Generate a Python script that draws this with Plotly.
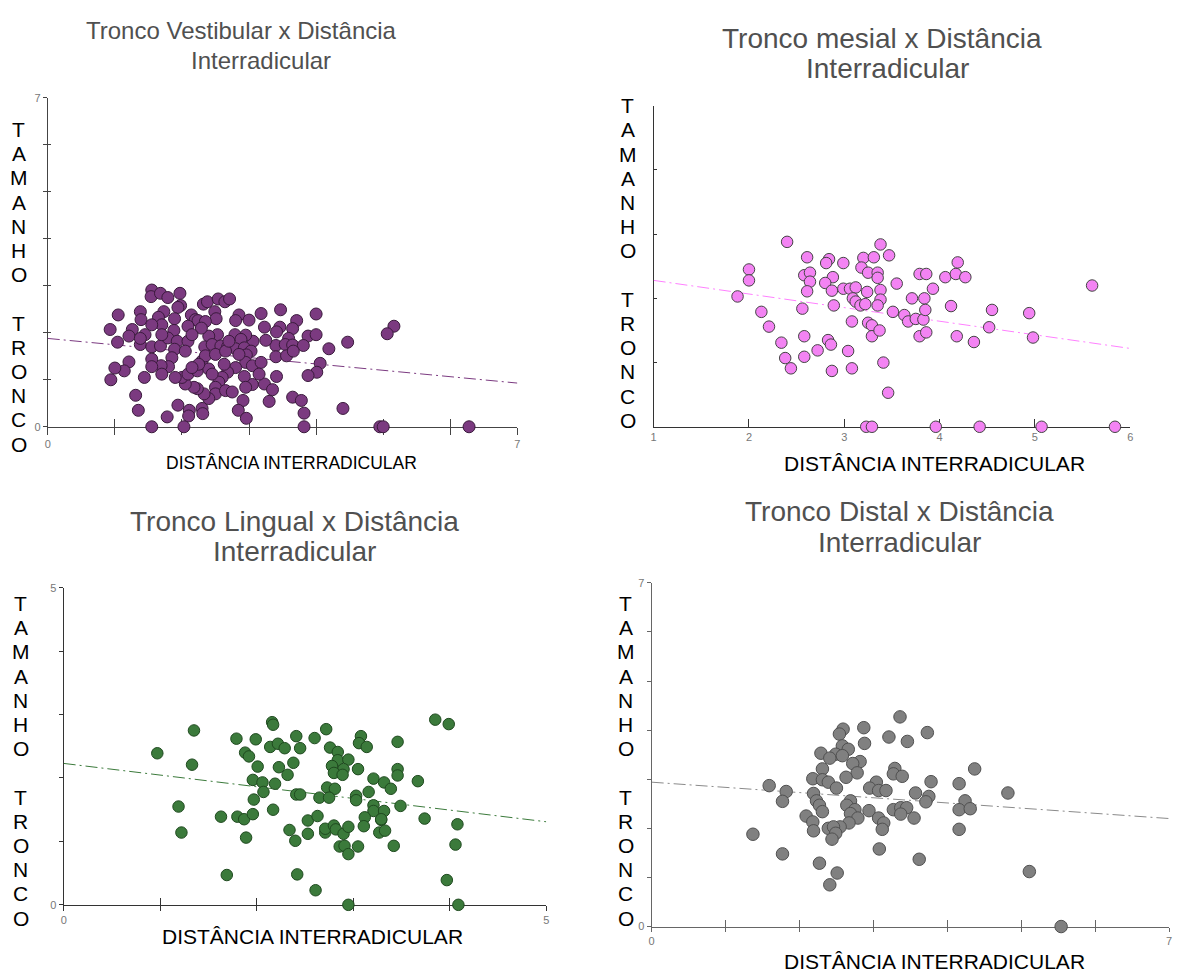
import plotly.graph_objects as go

# ---------------- data: (distância interradicular, tamanho do tronco) ----------------
vestibular_pts = [
    (1.55,2.91),(1.54,2.77),(1.68,2.84),(1.79,2.75),(1.97,2.84),(1.98,2.58),(1.94,2.54),(2.32,2.61),
    (2.38,2.66),(2.54,2.72),(2.64,2.66),(2.71,2.72),(2.49,2.45),(2.51,2.30),(1.38,2.45),(1.39,2.28),
    (1.05,2.38),(1.73,2.45),(1.65,2.33),(1.89,2.30),(2.14,2.38),(2.20,2.28),(2.24,2.26),(2.35,2.24),
    (2.85,2.38),(2.80,2.26),(3.00,2.27),(3.18,2.41),(3.47,2.49),(3.71,2.26),(4.00,2.40),(5.16,2.14),
    (5.06,1.98),(4.47,1.80),(4.19,1.66),(3.88,1.93),(4.00,1.96),(3.23,2.12),(3.46,2.12),(3.41,2.02),
    (3.65,2.09),(3.59,1.88),(3.40,1.73),(3.54,1.75),(3.65,1.74),(3.81,1.73),(3.25,1.84),(3.06,1.82),
    (2.95,1.95),(2.79,1.96),(2.88,1.86),(2.53,1.96),(2.40,1.93),(2.29,2.10),(2.09,2.14),(1.88,2.05),
    (1.70,2.17),(1.55,2.17),(1.45,1.96),(1.26,2.07),(1.21,1.93),(0.93,2.07),(1.04,1.80),(1.38,1.75),
    (1.38,1.88),(1.55,1.70),(1.68,1.72),(1.79,1.89),(1.93,1.82),(2.09,1.82),(2.34,1.70),(2.45,1.75),
    (2.58,1.72),(2.68,1.70),(2.80,1.66),(2.93,1.68),(3.03,1.61),(2.96,1.53),(2.95,1.37),(3.05,1.30),
    (3.18,1.37),(3.40,1.49),(3.56,1.51),(3.66,1.61),(4.06,1.35),(4.01,1.16),(3.88,1.09),(3.41,1.07),
    (3.23,0.91),(3.35,0.79),(3.05,0.90),(2.93,1.07),(2.95,0.84),(2.80,1.26),(2.68,1.16),(2.60,1.05),
    (2.55,0.95),(2.50,0.84),(2.50,0.70),(2.65,0.77),(2.75,0.74),(2.40,0.60),(2.33,0.70),(2.23,0.81),
    (2.18,0.84),(2.05,0.91),(2.00,1.05),(1.90,1.05),(2.09,1.12),(2.23,1.19),(2.30,1.40),(2.35,1.51),
    (2.40,1.23),(2.50,1.54),(2.65,1.61),(1.89,1.65),(1.85,1.47),(1.80,1.28),(1.69,1.30),(1.70,1.12),
    (1.55,1.44),(1.55,1.28),(1.44,1.05),(1.21,1.38),(1.14,1.19),(1.00,1.25),(0.94,1.00),(1.31,0.67),
    (1.35,0.35),(1.78,0.21),(1.94,0.46),(2.11,0.35),(2.10,0.23),(2.03,0.00),(1.55,0.00),(2.30,0.39),
    (2.31,0.28),(2.91,0.56),(2.84,0.35),(2.96,0.18),(3.30,0.54),(3.65,0.63),(3.78,0.56),(3.82,0.29),
    (3.82,0.00),(4.40,0.39),(4.95,0.00),(5.00,0.00),(6.28,0.00),(2.25,1.33),(2.63,1.33),(2.15,1.26),
    (2.85,1.54),(3.15,1.12),(2.45,1.12),(2.70,1.82),(2.15,1.96),(1.70,1.96),(2.05,1.61),
]

mesial_pts = [
    (2.40,2.88),(3.38,2.84),(2.61,2.64),(2.84,2.61),(2.81,2.55),(2.99,2.55),(3.20,2.63),(3.31,2.64),
    (3.47,2.67),(3.18,2.48),(3.25,2.40),(3.35,2.40),(3.35,2.32),(2.00,2.45),(2.00,2.28),(1.88,2.03),
    (2.58,2.36),(2.64,2.40),(2.64,2.26),(2.61,2.11),(2.88,2.33),(2.80,2.24),(2.87,2.12),(2.99,2.15),
    (3.06,2.15),(3.12,2.17),(3.24,2.10),(3.38,2.13),(3.55,2.23),(3.09,2.00),(3.12,1.95),(3.17,1.89),
    (3.22,1.91),(3.38,1.98),(3.35,1.89),(2.89,1.89),(2.56,1.84),(2.13,1.79),(2.21,1.56),(2.34,1.31),
    (2.58,1.41),(2.38,1.07),(2.44,0.91),(2.58,1.09),(2.72,1.19),(2.83,1.35),(2.86,1.28),(2.87,0.87),
    (3.04,1.18),(3.08,0.91),(3.08,1.64),(3.25,1.62),(3.29,1.58),(3.29,1.41),(3.37,1.50),(3.41,1.00),
    (3.46,0.53),(3.51,1.79),(3.63,1.74),(3.67,1.64),(3.71,2.00),(3.75,1.68),(3.83,1.67),(3.84,2.00),
    (3.85,1.82),(3.79,2.38),(3.86,2.38),(3.93,2.15),(3.79,1.41),(3.86,1.47),(4.06,2.33),(4.17,2.38),
    (4.19,2.56),(4.27,2.33),(4.12,1.88),(4.18,1.41),(4.36,1.32),(4.52,1.55),(4.55,1.82),(4.94,1.77),
    (4.98,1.39),(5.60,2.20),(3.23,0.00),(3.29,0.00),(3.96,0.00),(4.42,0.00),(5.07,0.00),(5.84,0.00),
]

lingual_pts = [
    (2.16,2.88),(2.17,2.84),(3.85,2.92),(3.99,2.85),(1.35,2.75),(2.72,2.77),(1.79,2.62),(1.99,2.61),
    (2.41,2.66),(2.60,2.63),(3.08,2.66),(3.46,2.57),(2.14,2.49),(2.22,2.54),(2.29,2.47),(2.45,2.47),
    (2.76,2.48),(2.84,2.41),(3.06,2.55),(3.14,2.49),(0.97,2.39),(1.88,2.40),(1.92,2.34),(2.84,2.28),
    (2.95,2.29),(1.33,2.21),(2.01,2.18),(2.23,2.17),(2.38,2.24),(2.78,2.19),(2.90,2.14),(3.05,2.14),
    (2.80,2.08),(2.89,2.05),(3.46,2.14),(3.46,2.04),(2.32,2.05),(1.96,1.97),(2.06,1.93),(2.19,1.91),
    (3.21,1.99),(3.32,1.93),(3.39,1.83),(3.67,1.95),(2.73,1.85),(2.81,1.83),(2.07,1.78),(2.41,1.74),
    (2.45,1.74),(2.65,1.69),(2.75,1.69),(3.16,1.78),(3.03,1.72),(3.03,1.65),(1.97,1.66),(1.19,1.55),
    (2.17,1.50),(3.21,1.57),(3.21,1.48),(3.32,1.48),(3.49,1.56),(1.63,1.39),(1.80,1.39),(1.87,1.35),
    (1.96,1.43),(2.53,1.33),(2.63,1.40),(3.12,1.38),(3.29,1.34),(3.74,1.36),(4.08,1.27),(1.22,1.14),
    (1.89,1.06),(2.34,1.18),(2.40,1.01),(2.53,1.12),(2.71,1.14),(2.71,1.20),(2.80,1.25),(2.82,1.19),
    (2.90,1.12),(2.95,1.23),(3.11,1.24),(3.27,1.14),(3.33,1.17),(3.29,1.35),(2.86,0.92),(2.91,0.93),
    (3.05,0.92),(2.95,0.80),(3.42,0.93),(4.06,0.95),(1.69,0.47),(2.42,0.48),(2.61,0.23),(3.97,0.39),
    (2.95,0.00),(4.09,0.00),
]

distal_pts = [
    (3.36,4.27),(2.87,4.05),(2.59,4.02),(3.73,3.95),(2.54,3.92),(3.21,3.86),(3.46,3.77),(2.88,3.73),
    (2.58,3.68),(2.66,3.61),(2.29,3.53),(2.49,3.51),(2.41,3.43),(2.58,3.48),(2.82,3.36),(2.72,3.32),
    (2.78,3.13),(2.31,3.21),(4.37,3.21),(3.29,3.22),(3.27,3.11),(3.39,3.06),(2.63,3.04),(2.18,3.01),
    (2.31,2.99),(2.39,2.94),(3.04,2.94),(3.78,2.95),(4.16,2.91),(1.59,2.87),(2.50,2.82),(2.95,2.82),
    (3.07,2.77),(3.17,2.77),(1.82,2.75),(3.57,2.72),(2.19,2.71),(3.75,2.65),(4.82,2.72),(2.23,2.56),
    (1.77,2.55),(2.69,2.56),(4.24,2.56),(3.71,2.54),(2.27,2.47),(2.64,2.47),(2.75,2.38),(2.94,2.36),
    (2.31,2.34),(3.27,2.38),(3.37,2.42),(3.45,2.42),(3.37,2.29),(4.16,2.38),(4.31,2.40),(2.69,2.30),
    (2.09,2.25),(2.79,2.21),(3.07,2.21),(3.55,2.21),(2.18,2.13),(2.67,2.11),(3.14,2.11),(3.12,1.98),
    (2.39,2.00),(2.55,2.03),(2.19,1.95),(2.46,2.03),(2.49,1.90),(4.16,1.98),(1.37,1.88),(2.44,1.78),
    (3.08,1.58),(1.77,1.48),(3.62,1.37),(2.27,1.29),(2.51,1.09),(5.11,1.12),(2.41,0.85),(5.54,0.00),
]

# regression lines (end points)
vestibular_fit_x, vestibular_fit_y = [0, 7], [1.88, 0.93]
mesial_fit_x, mesial_fit_y = [1, 6], [2.28, 1.22]
lingual_fit_x, lingual_fit_y = [0, 5], [2.23, 1.31]
distal_fit_x, distal_fit_y = [0, 7], [2.94, 2.20]

# axis ranges and tick labels
vestibular_ticks = list(range(0, 8))
mesial_xticks = list(range(1, 7))
mesial_yticks = list(range(0, 6))
lingual_ticks = list(range(0, 6))
distal_ticks = list(range(0, 8))

titles = [
    ("Tronco Vestibular x Distância", "Interradicular"),
    ("Tronco mesial x Distância", "Interradicular"),
    ("Tronco Lingual x Distância", "Interradicular"),
    ("Tronco Distal x Distância", "Interradicular"),
]
x_title = "DISTÂNCIA INTERRADICULAR"
y_letters = ["T", "A", "M", "A", "N", "H", "O", "", "T", "R", "O", "N", "C", "O"]

# ---------------- layout helpers ----------------
W, H = 1178, 977
FONT = "Arial, Liberation Sans, Helvetica, sans-serif"


def px(x):
    return x / W


def py(y):
    return 1 - y / H


def ends_only(vals):
    return [str(v) if i in (0, len(vals) - 1) else "" for i, v in enumerate(vals)]


panels = [
    dict(pts=vestibular_pts, fx=vestibular_fit_x, fy=vestibular_fit_y,
         fill="#7b3a80", edge="#3a1a3c", size=12, fit_color="#7b3a80",
         xdom=(45, 517), ydom=(93, 426), xr=[0, 7], yr=[0, 7],
         xt=vestibular_ticks, xtt=ends_only(vestibular_ticks),
         yt=vestibular_ticks, ytt=ends_only(vestibular_ticks), ylabels=True,
         axis_color="#444444",
         x_main=("outside", 7), x_over=("inside", 8, None),
         y_main=("outside", 4), y_over=("inside", 3, None),
         title_size=24, title_pos=((240, 25), (259, 55)),
         xt_size=17.5, xt_pos=(290, 463), letters_pos=(16, 125)),
    dict(pts=mesial_pts, fx=mesial_fit_x, fy=mesial_fit_y,
         fill="#f383f3", edge="#444444", size=11.5, fit_color="#ff80ff",
         xdom=(654, 1133), ydom=(101, 426), xr=[1, 6], yr=[0, 5],
         xt=mesial_xticks, xtt=[str(v) for v in mesial_xticks],
         yt=mesial_yticks, ytt=None, ylabels=False,
         axis_color="#333333",
         x_main=("inside", 8), x_over=None,
         y_main=("inside", 3), y_over=("inside", 6, [5]),
         title_size=28, title_pos=((883, 33), (889, 63)),
         xt_size=21, xt_pos=(936, 463), letters_pos=(628, 101)),
    dict(pts=lingual_pts, fx=lingual_fit_x, fy=lingual_fit_y,
         fill="#3b7a3b", edge="#1f4a1f", size=11.5, fit_color="#3b7a3b",
         xdom=(61, 546), ydom=(589, 910), xr=[0, 5], yr=[0, 5],
         xt=lingual_ticks, xtt=ends_only(lingual_ticks),
         yt=lingual_ticks, ytt=ends_only(lingual_ticks), ylabels=True,
         axis_color="#333333",
         x_main=("outside", 5), x_over=("inside", 7, None),
         y_main=("outside", 4), y_over=("inside", 5, [5]),
         title_size=28, title_pos=((293, 522), (293, 552)),
         xt_size=21, xt_pos=(311, 942), letters_pos=(18, 605)),
    dict(pts=distal_pts, fx=distal_fit_x, fy=distal_fit_y,
         fill="#808080", edge="#505050", size=12.5, fit_color="#8a8a8a",
         xdom=(652, 1172), ydom=(584, 932), xr=[0, 7], yr=[0, 7],
         xt=distal_ticks, xtt=ends_only(distal_ticks),
         yt=distal_ticks, ytt=ends_only(distal_ticks), ylabels=True,
         axis_color="#666666",
         x_main=("outside", 4), x_over=("inside", 7, None),
         y_main=("outside", 4), y_over=("inside", 8, [7]),
         title_size=28, title_pos=((901, 512), (901, 543)),
         xt_size=21, xt_pos=(936, 967), letters_pos=(626, 605)),
]

fig = go.Figure()
layout = dict(
    width=W, height=H, margin=dict(l=0, r=0, t=0, b=0),
    paper_bgcolor="white", plot_bgcolor="white", showlegend=False,
    font=dict(family=FONT),
)
annotations = []

for i, p in enumerate(panels, start=1):
    sfx = "" if i == 1 else str(i)
    ov = i + 4
    xs = [a for a, _ in p["pts"]]
    ys = [b for _, b in p["pts"]]

    # regression line (drawn under the points)
    fig.add_trace(go.Scatter(
        x=p["fx"], y=p["fy"], mode="lines", xaxis=f"x{sfx}", yaxis=f"y{sfx}",
        line=dict(color=p["fit_color"], width=1, dash="12px,4px,2px,4px"),
        hoverinfo="skip"))
    # scatter points
    fig.add_trace(go.Scatter(
        x=xs, y=ys, mode="markers", xaxis=f"x{sfx}", yaxis=f"y{sfx}",
        cliponaxis=False,
        marker=dict(size=p["size"], color=p["fill"],
                    line=dict(color=p["edge"], width=1))))
    # empty trace hosting the overlay axes (tick marks on the other side)
    fig.add_trace(go.Scatter(x=[], y=[], xaxis=f"x{ov}", yaxis=f"y{ov}",
                             mode="markers", hoverinfo="skip"))

    ac = p["axis_color"]
    tickfont = dict(family=FONT, size=11, color="#777777")
    xdom = [px(p["xdom"][0]), px(p["xdom"][1])]
    ydom = [py(p["ydom"][1]), py(p["ydom"][0])]

    layout[f"xaxis{sfx}"] = dict(
        domain=xdom, anchor=f"y{sfx}", range=p["xr"], showgrid=False, zeroline=False,
        showline=True, linecolor=ac, linewidth=1, layer="below traces",
        tickmode="array", tickvals=p["xt"], ticktext=p["xtt"],
        ticks=p["x_main"][0], ticklen=p["x_main"][1], tickcolor=ac, tickwidth=1,
        tickfont=tickfont, fixedrange=True)
    layout[f"yaxis{sfx}"] = dict(
        domain=ydom, anchor=f"x{sfx}", range=p["yr"], showgrid=False, zeroline=False,
        showline=True, linecolor=ac, linewidth=1, layer="below traces",
        tickmode="array", tickvals=p["yt"],
        ticktext=p["ytt"] if p["ytt"] else [""] * len(p["yt"]),
        showticklabels=p["ylabels"],
        ticks=p["y_main"][0], ticklen=p["y_main"][1], tickcolor=ac, tickwidth=1,
        tickfont=tickfont, fixedrange=True)

    xo = p["x_over"]
    layout[f"xaxis{ov}"] = dict(
        overlaying=f"x{sfx}", anchor=f"y{ov}", range=p["xr"], showgrid=False,
        zeroline=False, showline=False, showticklabels=False, layer="below traces",
        tickmode="array", tickvals=(xo[2] or p["xt"]) if xo else [],
        ticks=xo[0] if xo else "", ticklen=xo[1] if xo else 0,
        tickcolor=ac, tickwidth=1, fixedrange=True)
    yo = p["y_over"]
    layout[f"yaxis{ov}"] = dict(
        overlaying=f"y{sfx}", anchor=f"x{ov}", range=p["yr"], showgrid=False,
        zeroline=False, showline=False, showticklabels=False, layer="below traces",
        tickmode="array", tickvals=(yo[2] or p["yt"]) if yo else [],
        ticks=yo[0] if yo else "", ticklen=yo[1] if yo else 0,
        tickcolor=ac, tickwidth=1, fixedrange=True)

    # two-line title
    for text, (tx, ty) in zip(titles[i - 1], p["title_pos"]):
        annotations.append(dict(
            text=text, x=px(tx), y=py(ty), xref="paper", yref="paper",
            xanchor="center", yanchor="middle", showarrow=False,
            font=dict(family=FONT, size=p["title_size"], color="#505050")))
    # x axis title
    annotations.append(dict(
        text=x_title, x=px(p["xt_pos"][0]), y=py(p["xt_pos"][1]),
        xref="paper", yref="paper", xanchor="center", yanchor="middle",
        showarrow=False, font=dict(family=FONT, size=p["xt_size"], color="black")))
    # vertical y axis title, one letter per row
    lx, ly = p["letters_pos"]
    for k, ch in enumerate(y_letters):
        if not ch:
            continue
        annotations.append(dict(
            text=ch, x=px(lx), y=py(ly + 24.5 * k), xref="paper", yref="paper",
            xanchor="center", yanchor="middle", showarrow=False,
            font=dict(family=FONT, size=21, color="black")))

layout["annotations"] = annotations
fig.update_layout(**layout)
fig.write_html("out.html")
